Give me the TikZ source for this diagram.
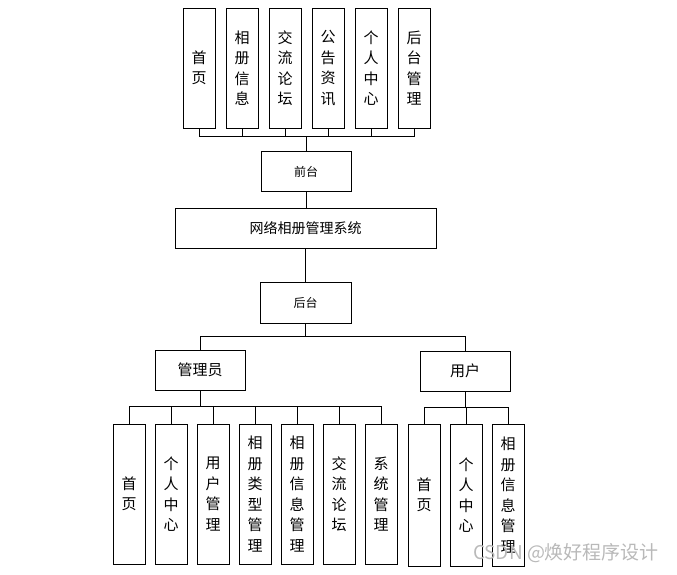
\documentclass[tikz,border=0pt]{standalone}
\usepackage{fontspec}
\setmainfont{Noto Sans CJK SC}
\begin{document}
\begin{tikzpicture}[x=1pt, y=-1pt,
	vbox/.style={draw, line width=0.9pt, minimum width=32pt, inner sep=0pt, align=center, font=\fontsize{15}{20.5}\selectfont},
	hbox/.style={draw, line width=0.9pt, minimum width=90pt, minimum height=40pt, inner sep=0pt},
	link/.style={line width=0.9pt}]
	\useasboundingbox (0,0) rectangle (677,575);
	
	%front pages
	\node [vbox, minimum height=120pt] (fsy) at (199,68) {首\\页};
	\node [vbox, minimum height=120pt] (fxc) at (242,68) {相\\册\\信\\息};
	\node [vbox, minimum height=120pt] (fjl) at (285,68) {交\\流\\论\\坛};
	\node [vbox, minimum height=120pt] (fgg) at (328,68) {公\\告\\资\\讯};
	\node [vbox, minimum height=120pt] (fgr) at (371,68) {个\\人\\中\\心};
	\node [vbox, minimum height=120pt] (fht) at (414,68) {后\\台\\管\\理};
	\node [hbox, font=\fontsize{12}{14}\selectfont] (qiantai) at (306,171.5) {前台};
	\coordinate (fbus) at (306,136);
	\draw [link] (fsy.south) |- (fbus) -- (qiantai.north);
	\draw [link] (fxc.south) |- (fbus);
	\draw [link] (fjl.south) |- (fbus);
	\draw [link] (fgg.south) |- (fbus);
	\draw [link] (fgr.south) |- (fbus);
	\draw [link] (fht.south) |- (fbus);
	
	%system
	\node [hbox, minimum width=261pt, font=\fontsize{14}{16}\selectfont] (sys) at (305.5,228) {网络相册管理系统};
	\node [hbox, minimum width=91pt, minimum height=41pt, font=\fontsize{12}{14}\selectfont] (houtai) at (305.5,302.5) {后台};
	\draw [link] (qiantai.south) -- (qiantai.south |- sys.north);
	\draw [link] (sys.south -| houtai.north) -- (houtai.north);
	
	%roles
	\node [hbox, font=\fontsize{15}{17}\selectfont] (admin) at (200,370) {管理员};
	\node [hbox, font=\fontsize{15}{17}\selectfont] (user) at (465,371) {用户};
	\coordinate (rbus) at (305.5,336);
	\draw [link] (houtai.south) -- (rbus) -| (admin.north);
	\draw [link] (rbus) -| (user.north);
	
	%admin pages
	\node [vbox, minimum height=140pt] (asy) at (129,494) {首\\页};
	\node [vbox, minimum height=140pt] (agr) at (171,494) {个\\人\\中\\心};
	\node [vbox, minimum height=140pt] (ayh) at (213,494) {用\\户\\管\\理};
	\node [vbox, minimum height=140pt] (alx) at (255,494) {相\\册\\类\\型\\管\\理};
	\node [vbox, minimum height=140pt] (axc) at (297,494) {相\\册\\信\\息\\管\\理};
	\node [vbox, minimum height=140pt] (ajl) at (339,494) {交\\流\\论\\坛};
	\node [vbox, minimum height=140pt] (axt) at (381,494) {系\\统\\管\\理};
	\coordinate (abus) at (200,406);
	\draw [link] (admin.south) -- (abus);
	\draw [link] (asy.north) |- (abus);
	\draw [link] (agr.north) |- (abus);
	\draw [link] (ayh.north) |- (abus);
	\draw [link] (alx.north) |- (abus);
	\draw [link] (axc.north) |- (abus);
	\draw [link] (ajl.north) |- (abus);
	\draw [link] (axt.north) |- (abus);
	
	%user pages
	\node [vbox, minimum height=142pt] (usy) at (424,495) {首\\页};
	\node [vbox, minimum height=142pt] (ugr) at (466,495) {个\\人\\中\\心};
	\node [vbox, minimum height=142pt] (uxc) at (508,495) {相\\册\\信\\息\\管\\理};
	\coordinate (ubus) at (465,407);
	\draw [link] (user.south) -- (ubus);
	\draw [link] (usy.north) |- (ubus);
	\draw [link] (ugr.north) |- (ubus);
	\draw [link] (uxc.north) |- (ubus);
	
	\node [text=gray!55, font=\fontsize{19}{21}\selectfont] (mark) at (566,553) {CSDN @焕好程序设计};
\end{tikzpicture}
\end{document}
